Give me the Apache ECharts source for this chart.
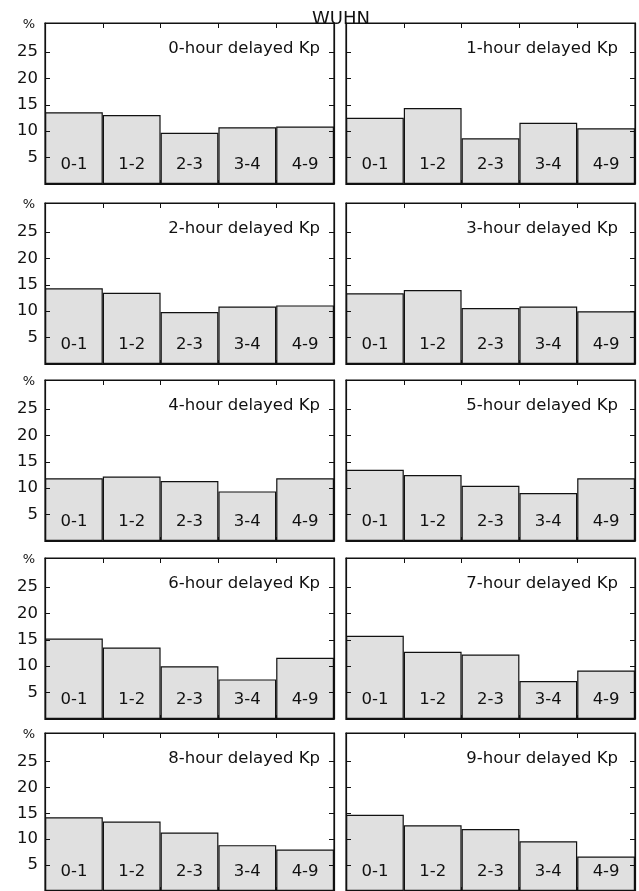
<!DOCTYPE html>
<html>
<head>
<meta charset="utf-8">
<script src="https://cdn.jsdelivr.net/npm/echarts@6/dist/echarts.min.js"></script>
<style>
  html, body { margin: 0; padding: 0; background: #fff; }
  #chart { width: 639px; height: 891px; }
</style>
</head>
<body>
<div id="chart"></div>
<script>
// Kp bins on the x axis
const kpBins = ['0-1', '1-2', '2-3', '3-4', '4-9'];
// y ticks (%)
const yTicks = [5, 10, 15, 20, 25];
const station = 'WUHN';
const panelTitles = [
  '0-hour delayed Kp', '1-hour delayed Kp', '2-hour delayed Kp', '3-hour delayed Kp',
  '4-hour delayed Kp', '5-hour delayed Kp', '6-hour delayed Kp', '7-hour delayed Kp',
  '8-hour delayed Kp', '9-hour delayed Kp'
];
// percentages for each delay
const delay0 = [13.6, 13.05, 9.7, 10.75, 10.9];
const delay1 = [12.55, 14.4, 8.65, 11.6, 10.55];
const delay2 = [14.35, 13.5, 9.85, 10.9, 11.1];
const delay3 = [13.4, 14.0, 10.6, 10.9, 10.0];
const delay4 = [11.9, 12.2, 11.35, 9.4, 11.9];
const delay5 = [13.5, 12.5, 10.45, 9.1, 11.9];
const delay6 = [15.25, 13.55, 10.0, 7.5, 11.6];
const delay7 = [15.75, 12.75, 12.2, 7.2, 9.2];
const delay8 = [14.25, 13.4, 11.3, 8.85, 8.0];
const delay9 = [14.7, 12.7, 11.95, 9.6, 6.65];
const allDelays = [delay0, delay1, delay2, delay3, delay4, delay5, delay6, delay7, delay8, delay9];

// layout
const rowTops = [23, 203, 380, 558, 733];
const colLefts = [45, 346];
const panelW = 289, panelH = 161;
const yMax = 30.5;
const font = '"DejaVu Sans", Verdana, sans-serif';
const ink = '#111';

const grids = [], xAxes = [], yAxes = [], series = [], titles = [];

allDelays.forEach((vals, i) => {
  const row = Math.floor(i / 2), col = i % 2;
  const left = colLefts[col], top = rowTops[row];
  grids.push({ left: left, top: top, width: panelW, height: panelH, show: true,
    backgroundColor: '#fff', borderColor: ink, borderWidth: 1.2 });

  // bottom axis: labels sit inside the bars, ticks hidden behind bar edges
  xAxes.push({ type: 'category', gridIndex: i, data: kpBins, position: 'bottom', z: 10,
    axisLine: { show: true, onZero: false, lineStyle: { color: ink, width: 1.2 } },
    axisTick: { show: true, inside: true, length: 4, lineStyle: { color: ink } },
    axisLabel: { inside: true, margin: 11, color: ink, fontSize: 16.5, fontFamily: font } });
  // top axis: ticks only
  xAxes.push({ type: 'category', gridIndex: i, data: kpBins, position: 'top', z: 10,
    axisLine: { show: true, onZero: false, lineStyle: { color: ink, width: 1.2 } },
    axisTick: { show: true, inside: true, length: 5, lineStyle: { color: ink } },
    axisLabel: { show: false } });

  const yBase = { type: 'value', gridIndex: i, min: 0, max: yMax, splitLine: { show: false }, z: 10,
    axisLine: { show: true, onZero: false, lineStyle: { color: ink, width: 1.2 } },
    axisTick: { show: true, inside: true, length: 5, customValues: yTicks, lineStyle: { color: ink } } };
  yAxes.push(Object.assign({}, yBase, { position: 'left',
    name: col === 0 ? '%' : '', nameLocation: 'end', nameGap: -2,
    nameTextStyle: { color: ink, fontSize: 13, fontFamily: font, align: 'center',
      verticalAlign: 'middle', padding: [0, 32, 0, 0] },
    axisLabel: { show: col === 0, customValues: yTicks, margin: 7, color: ink,
      fontSize: 16.5, fontFamily: font } }));
  yAxes.push(Object.assign({}, yBase, { position: 'right', axisLabel: { show: false } }));

  series.push({ type: 'bar', xAxisIndex: 2 * i, yAxisIndex: 2 * i, data: vals,
    barCategoryGap: 0, barWidth: '100%', silent: true,
    itemStyle: { color: '#e0e0e0', borderColor: ink, borderWidth: 1.2 } });

  titles.push({ text: panelTitles[i], right: col === 0 ? 639 - 320 : 639 - 618, top: top + 17,
    padding: 0, textStyle: { color: ink, fontSize: 16.5, fontWeight: 'normal', fontFamily: font } });
});

const chart = echarts.init(document.getElementById('chart'), null, { renderer: 'canvas' });
chart.setOption({
  animation: false,
  backgroundColor: '#fff',
  title: titles,
  grid: grids,
  xAxis: xAxes,
  yAxis: yAxes,
  series: series,
  graphic: [{ type: 'text', x: 341, y: 28, z: 100,
    style: { text: station, fill: ink, font: '18px ' + font, textAlign: 'center', textVerticalAlign: 'bottom' } }]
});
</script>
</body>
</html>
